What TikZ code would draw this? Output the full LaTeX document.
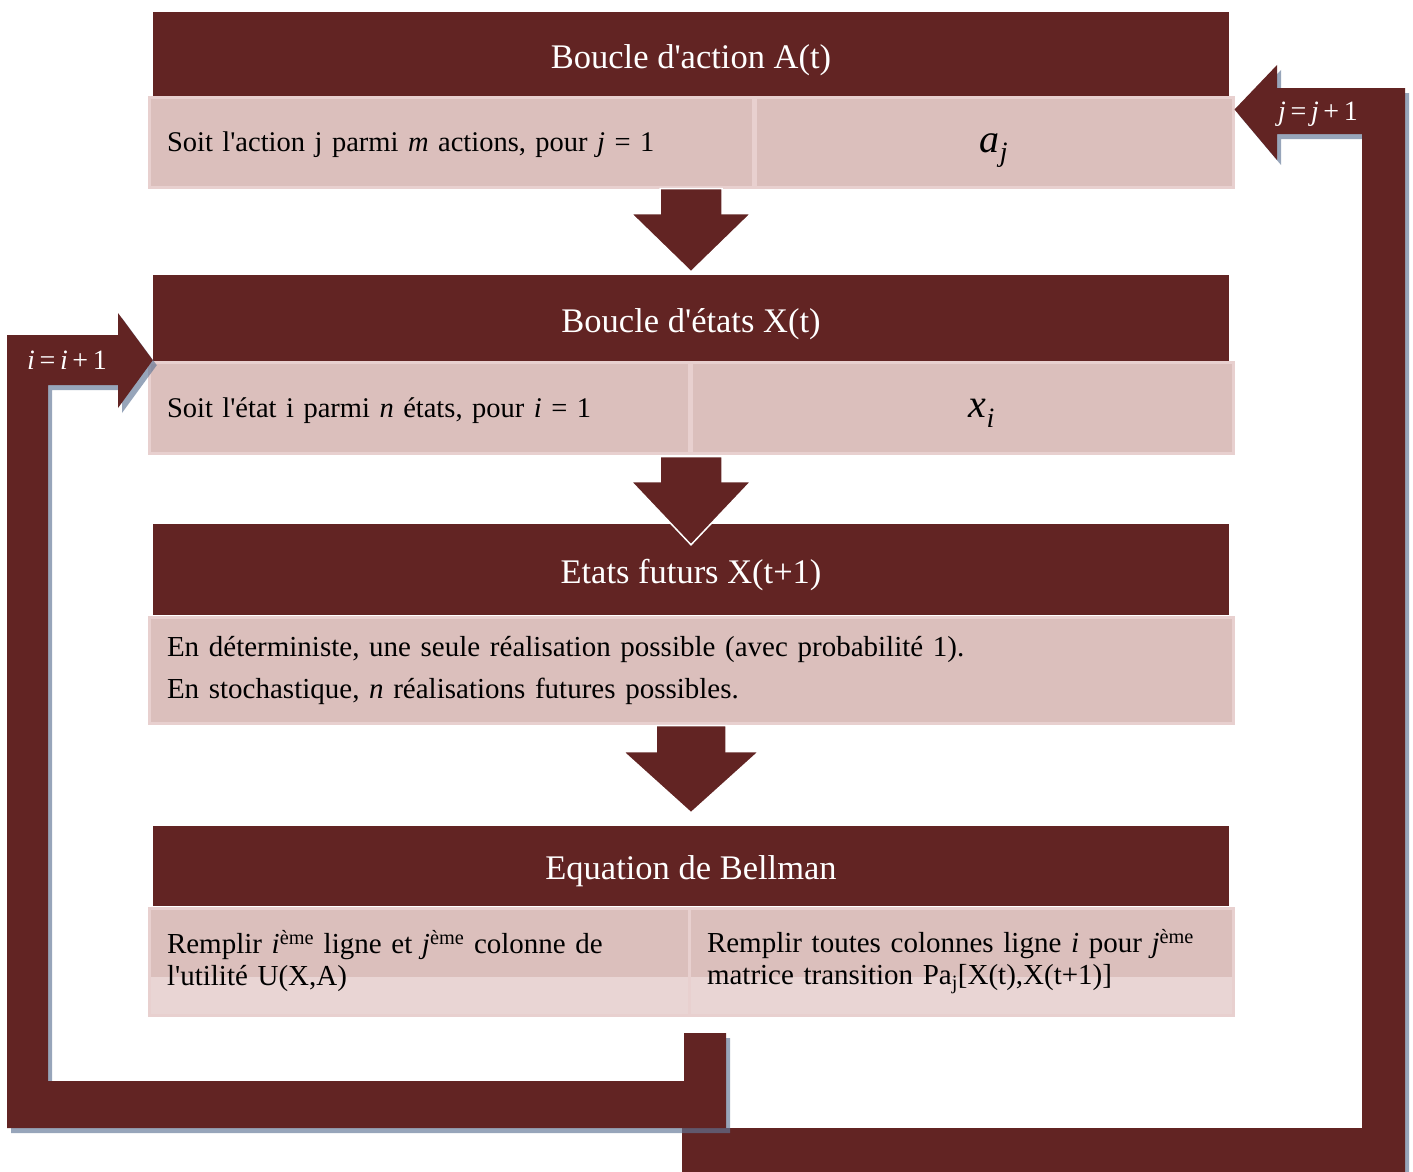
\documentclass[tikz,border=0pt]{standalone}
\usepackage{fontspec}
\setmainfont{Liberation Serif}
\usetikzlibrary{calc}
\definecolor{mBordeaux}{HTML}{622423}
\definecolor{mRose}{HTML}{DBBFBC}
\definecolor{mRoseEdge}{HTML}{E8D0CF}
\definecolor{mRoseLight}{HTML}{E9D5D4}
\definecolor{mShade}{HTML}{5F7595}
\newcommand{\q}{\textquotesingle}
\newcommand{\retouri}{(684,1033) -- (726,1033) -- (726,1128) -- (7,1128) -- (7,335) -- (118,335) -- (118,313) -- (ti) -- (118,408) -- (118,385) -- (48,385) -- (48,1081) -- (684,1081) -- cycle}
\newcommand{\retourj}{(682,1128) -- (1362,1128) -- (1362,134) -- (1277,134) -- (1277,160) -- (tj) -- (1277,65) -- (1277,88) -- (1405,88) -- (1405,1185) -- (682,1185) -- cycle}

\begin{document}
\begin{tikzpicture}[x=1pt, y=-1pt,
    hdr/.style={fill=mBordeaux, text=white, minimum width=1076, inner sep=0pt,
                text height=27pt, text depth=0pt,
                font=\fontsize{34.5}{38}\selectfont},
    cellbox/.style={fill=mRose, draw=mRoseEdge, line width=3pt, inner xsep=18pt,
                    inner ysep=0pt, align=left, font=\fontsize{28.5}{32}\selectfont},
    onerow/.style={text height=19pt, text depth=0pt},
    bigvar/.style={align=center, text height=20pt, text depth=0pt,
                   font=\fontsize{40}{44}\selectfont},
    lowband/.style={path picture={\fill[mRoseLight] (path picture bounding box.south west)
                    rectangle ([yshift=38pt]path picture bounding box.south east);}},
    blk/.style={fill=mBordeaux, draw=white, line width=1.5pt},
    shade/.style={fill=mShade, fill opacity=0.65,
                  transform canvas={xshift=4pt, yshift=-5pt}},
    lbl/.style={text=white, text height=19pt, text depth=0pt,
                font=\fontsize{28}{30}\selectfont}]
  \useasboundingbox (0,0) rectangle (1413,1172);

  % Boucle d'action
  \node[hdr, minimum height=85] (h1) at (691,54.5) {Boucle d\q action A(t)};
  \node[cellbox, onerow, text width=568, minimum height=90] (r1a) at (451,142)
    {Soit l\q action j parmi \textit{m} actions, pour \textit{j} = 1};
  \node[cellbox, bigvar, text width=442, minimum height=90] (r1b) at (994,142)
    {\textit{a}\textsubscript{\textit{j}}};

  % Boucle d'etats
  \node[hdr, minimum height=87] (h2) at (691,318.5) {Boucle d\q états X(t)};
  \node[cellbox, onerow, text width=504, minimum height=91] (r2a) at (419,407.5)
    {Soit l\q état i parmi \textit{n} états, pour \textit{i} = 1};
  \node[cellbox, bigvar, text width=506, minimum height=91] (r2b) at (962,407.5)
    {\hspace*{40pt}\textit{x}\textsubscript{\textit{i}}};

  % Etats futurs
  \node[hdr, minimum height=91] (h3) at (691,569.5) {Etats futurs X(t+1)};
  \node[cellbox, text width=1048, minimum height=106, font=\fontsize{29}{42}\selectfont]
    (r3) at (691,670)
    {En déterministe, une seule réalisation possible (avec probabilité 1).\\
     En stochastique, \textit{n} réalisations futures possibles.};

  % Bellman
  \node[hdr, minimum height=80] (h4) at (691,866) {Equation de Bellman};
  \node[cellbox, lowband, text width=504, minimum height=107,
        font=\fontsize{29}{32}\selectfont] (r4a) at (419,961.5)
    {Remplir \textit{i}\textsuperscript{ème} ligne et \textit{j}\textsuperscript{ème} colonne de\\
     l\q utilité U(X,A)};
  \node[cellbox, lowband, text width=508, minimum height=107,
        font=\fontsize{29}{32}\selectfont] (r4b) at (961,961.5)
    {Remplir toutes colonnes ligne \textit{i} pour \textit{j}\textsuperscript{ème}\\
     matrice transition Pa\textsubscript{j}[X(t),X(t+1)]};

  % fleches entre les blocs
  \coordinate (a1) at (h1.south |- r1a.south);
  \coordinate (a2) at (h2.south |- r2a.south);
  \coordinate (a3) at (h3.south |- r3.south);
  \draw[blk] ($(a1)+(-31,0)$) -- ++(62,0) -- ++(0,25) -- ++(29,0)
    -- ($(h2.north)+(0,-3)$) -- ($(a1)+(-60,25)$) -- ++(29,0) -- cycle;
  \draw[blk] ($(a2)+(-31,2)$) -- ++(62,0) -- ++(0,25) -- ++(29,0)
    -- ($(h3.north)+(0,21)$) -- ($(a2)+(-60,27)$) -- ++(29,0) -- cycle;
  \draw[blk] ($(a3)+(-35,1)$) -- ++(70,0) -- ++(0,26) -- ++(33,0)
    -- ($(h4.north)+(0,-13)$) -- ($(a3)+(-68,27)$) -- ++(33,0) -- cycle;

  % retours
  \coordinate (ti) at ($(h2.south west)+(0,-2)$);
  \coordinate (tj) at ($(r1b.north east)+(0,14)$);
  \fill[shade] \retourj;
  \fill[mBordeaux] \retourj;
  \fill[shade] \retouri;
  \fill[mBordeaux] \retouri;
  \node[lbl] (li) at (67,360) {\textit{i}\,=\,\textit{i}\,+\,1};
  \node[lbl] (lj) at (1318,111) {\textit{j}\,=\,\textit{j}\,+\,1};
\end{tikzpicture}
\end{document}
